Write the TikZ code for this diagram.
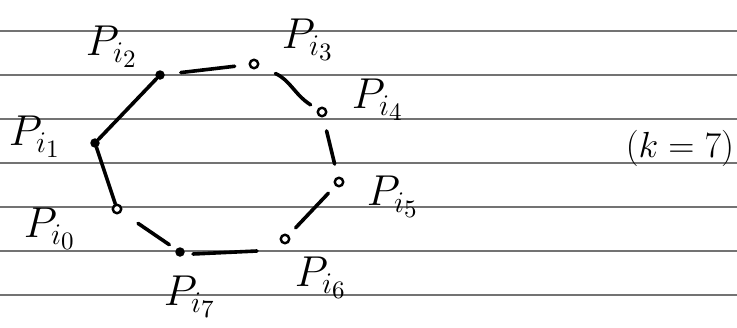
\documentclass[tikz,border=0pt]{standalone}
\begin{document}
\begin{tikzpicture}[x=1pt,y=-1pt,
  rule/.style={draw=black!55, line width=1.3pt},
  edge/.style={draw=black, line width=3.6pt, line cap=round},
  fdot/.style={circle, fill=black, inner sep=0pt, minimum size=9.5pt},
  odot/.style={circle, draw=black, line width=2.4pt, fill=white, inner sep=0pt, minimum size=8.5pt},
  lab/.style={font=\LARGE, scale=2.5, inner sep=0pt},
  klab/.style={font=\LARGE, scale=2.1, inner sep=0pt}]
\useasboundingbox (0,0) rectangle (737,327);
\foreach \y in {31,75,119,163,207,251,295} \draw[rule] (0,\y) -- (737,\y);
% points
\node[fdot] (p1) at (95,143) {};
\node[fdot] (p2) at (160,75) {};
\node[odot] (p3) at (254,64) {};
\node[odot] (p4) at (322,112) {};
\node[odot] (p5) at (339,182) {};
\node[odot] (p6) at (285,239) {};
\node[fdot] (p7) at (180,252) {};
\node[odot] (p0) at (117,209) {};
\coordinate (c67) at (257,251);
% edges
\draw[edge] (p1) -- (p2);
\draw[edge, shorten <=16pt, shorten >=14pt] (p2) -- (p3);
\draw[edge, shorten <=18pt, shorten >=8pt] (p3) .. controls (290,80) and (295,95) .. (p4);
\draw[edge, shorten <=14pt, shorten >=13pt] (p4) -- (p5);
\draw[edge, shorten <=10pt, shorten >=10pt] (p5) -- (p6);
\draw[edge] (c67) -- ([xshift=13pt,yshift=-2pt]p7.center);
\draw[edge, shorten <=8pt, shorten >=20pt] (p7) -- (p0);
\draw[edge] (p1) -- (p0);
% labels
\node[lab] (l2) at (112,47) {$P_{i_2}$};
\node[lab] (l3) at (308,40) {$P_{i_3}$};
\node[lab] (l4) at (378,100) {$P_{i_4}$};
\node[lab] (l1) at (35,137) {$P_{i_1}$};
\node[lab] (l5) at (393,197) {$P_{i_5}$};
\node[lab] (l0) at (50,229) {$P_{i_0}$};
\node[lab] (l7) at (190,297) {$P_{i_7}$};
\node[lab] (l6) at (321,278) {$P_{i_6}$};
\node[klab] (lk) at (680,148) {$(k=7)$};
\end{tikzpicture}
\end{document}
